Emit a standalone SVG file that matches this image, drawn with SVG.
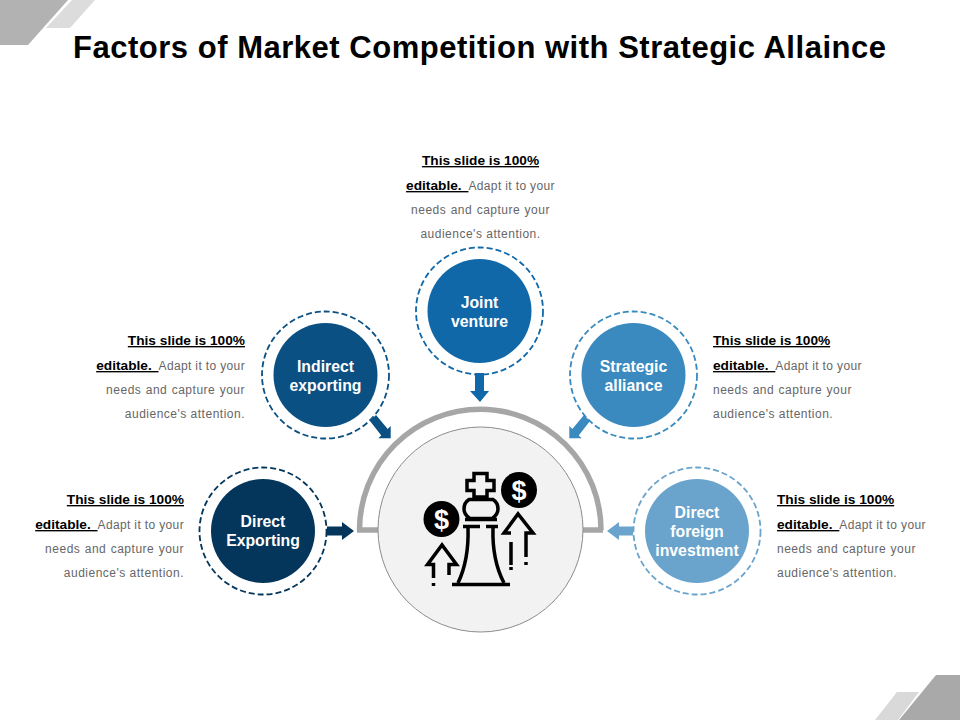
<svg xmlns="http://www.w3.org/2000/svg" width="960" height="720" viewBox="0 0 960 720">
<style>
text{font-family:"Liberation Sans",Arial,sans-serif}
.t{font-size:31px;font-weight:700;fill:#000}
.n{font-size:15.800px;font-weight:700;fill:#fff;text-anchor:middle}
.d{font-size:12px;fill:#666;letter-spacing:.36px}
.w{letter-spacing:.5px;word-spacing:.6px}
.a{letter-spacing:.5px}
.b{font-size:13.700px;font-weight:700;fill:#000;letter-spacing:0;text-decoration:underline}
.g{word-spacing:3px}
.e{text-anchor:end}
.m{text-anchor:middle}
.r{fill:none;stroke-width:1.800;stroke-dasharray:6 3}
.i{fill:none;stroke:#000;stroke-width:3.500}
.s{font-size:27px;font-weight:700;fill:#fff;text-anchor:middle}
</style>
<rect width="960" height="720" fill="#fff"/>
<g id="corners">
<polygon points="0,0 68,0 28,45 0,45" fill="#b2b2b2"/>
<polygon points="72,0 95,0 70,28 46,28" fill="#dcdcdc"/>
<polygon points="897,692 919,692 898,720 875,720" fill="#d9d9d9"/>
<polygon points="936,675 960,675 960,720 899,720" fill="#a9a9a9"/>
</g>
<text id="title" class="t" x="73" y="57.500" textLength="813">Factors of Market Competition with Strategic Allaince</text>
<g id="connectors">
<polygon points="475,373 484,373 484,391 489,391 480,402 470,391 475,391" fill="#1068a8"/>
<polygon points="327,526.500 342,526.500 342,522 354,531 342,540 342,535.500 327,535.500" fill="#04365b"/>
<polygon points="633,526.500 619,526.500 619,522 607,531 619,540 619,535.500 633,535.500" fill="#6aa4cd"/>
<polygon points="376,415 387.700,429 390.700,426 390.700,438.300 378.300,438.300 381.300,435.400 370,421" fill="#0a5083"/>
<polygon points="584,415 572.300,429 569.300,426 569.300,438.300 581.700,438.300 578.700,435.400 590,421" fill="#3a8abf"/>
</g>
<g id="hub">
<path d="M359.500 530A120.750 120.750 0 0 1 601 530M378 530H357M583 530H603" fill="none" stroke="#a6a6a6" stroke-width="5.500"/>
<circle cx="480.500" cy="529.500" r="102.500" fill="#f2f2f2" stroke="#8c8c8c" stroke-width="1"/>
<g id="icon">
<path class="i" d="M474 473.500H487V480.500H494V490.500H487V497H474V490.500H467V480.500H474Z"/>
<path class="i" d="M469 499.500H493C497 502 498 505 498 509C498 513 496 516 492 518.500H470C466 516 464 513 464 509C464 505 465 502 469 499.500Z"/>
<path class="i" d="M465 519.500H497M463 526.500H480M486 526.500H498"/>
<path class="i" d="M468 528Q469 560 458 583M493 528Q492 560 504 583"/>
<path class="i" d="M452 584.500H510"/>
<circle cx="519" cy="490" r="18" fill="#000"/>
<circle cx="441.500" cy="519" r="18" fill="#000"/>
<text class="s" x="519" y="499.500">$</text>
<text class="s" x="441.500" y="528.500">$</text>
<path class="i" d="M433.500 578V564.500H427.500L442 545L456.500 564.500H449V575M433.500 583V586"/>
<path class="i" d="M511 533H504L518 514L533 533H526V557M511 542V565M511 567V570M526 562V565"/>
</g>
</g>
<g id="node-direct-exporting">
<circle class="r" cx="263" cy="531" r="63.500" stroke="#04365b"/>
<circle cx="263" cy="531" r="52" fill="#04365b"/>
<text class="n" x="263" y="527">Direct</text><text class="n" x="263" y="546">Exporting</text>
<text class="d e" x="184" y="504"><tspan class="b">This slide is 100%</tspan></text>
<text class="d e" x="184" y="529"><tspan class="b g">editable. </tspan>Adapt it to your</text>
<text class="d e w" x="184" y="553">needs and capture your</text>
<text class="d e a" x="184" y="577">audience's attention.</text>
</g>
<g id="node-indirect-exporting">
<circle class="r" cx="325.500" cy="375" r="63.500" stroke="#0a5083"/>
<circle cx="325.500" cy="375" r="52" fill="#0a5083"/>
<text class="n" x="325.500" y="372">Indirect</text><text class="n" x="325.500" y="391">exporting</text>
<text class="d e" x="245" y="345"><tspan class="b">This slide is 100%</tspan></text>
<text class="d e" x="245" y="370"><tspan class="b g">editable. </tspan>Adapt it to your</text>
<text class="d e w" x="245" y="394">needs and capture your</text>
<text class="d e a" x="245" y="418">audience's attention.</text>
</g>
<g id="node-joint-venture">
<circle class="r" cx="479.500" cy="311" r="63.500" stroke="#1068a8"/>
<circle cx="479.500" cy="311" r="52" fill="#1068a8"/>
<text class="n" x="479.500" y="308">Joint</text><text class="n" x="479.500" y="327">venture</text>
<text class="d m" x="480.500" y="165"><tspan class="b">This slide is 100%</tspan></text>
<text class="d m" x="480.500" y="190"><tspan class="b g">editable. </tspan>Adapt it to your</text>
<text class="d m w" x="480.500" y="214">needs and capture your</text>
<text class="d m a" x="480.500" y="238">audience's attention.</text>
</g>
<g id="node-strategic-alliance">
<circle class="r" cx="633.500" cy="375" r="63.500" stroke="#3a8abf"/>
<circle cx="633.500" cy="375" r="52" fill="#3a8abf"/>
<text class="n" x="633.500" y="372">Strategic</text><text class="n" x="633.500" y="391">alliance</text>
<text class="d" x="713" y="345"><tspan class="b">This slide is 100%</tspan></text>
<text class="d" x="713" y="370"><tspan class="b g">editable. </tspan>Adapt it to your</text>
<text class="d w" x="713" y="394">needs and capture your</text>
<text class="d a" x="713" y="418">audience's attention.</text>
</g>
<g id="node-direct-foreign-investment">
<circle class="r" cx="697" cy="531" r="63.500" stroke="#6aa4cd"/>
<circle cx="697" cy="531" r="52" fill="#6aa4cd"/>
<text class="n" x="697" y="518">Direct</text><text class="n" x="697" y="537">foreign</text><text class="n" x="697" y="556">investment</text>
<text class="d" x="777" y="504"><tspan class="b">This slide is 100%</tspan></text>
<text class="d" x="777" y="529"><tspan class="b g">editable. </tspan>Adapt it to your</text>
<text class="d w" x="777" y="553">needs and capture your</text>
<text class="d a" x="777" y="577">audience's attention.</text>
</g>
</svg>
